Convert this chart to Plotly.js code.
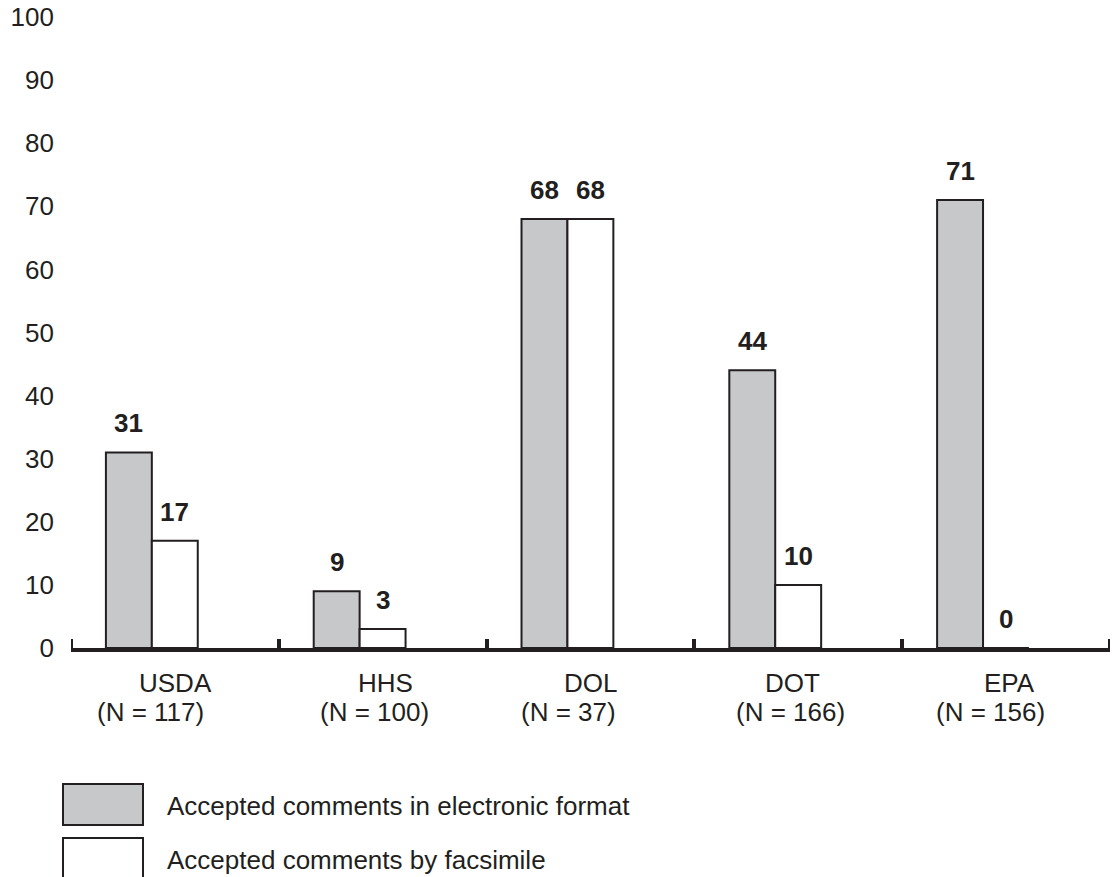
<!DOCTYPE html>
<html>
<head>
<meta charset="utf-8">
<script src="https://cdn.plot.ly/plotly-3.0.1.min.js"></script>
<style>html,body{margin:0;padding:0;background:#fff;}#chart{width:1116px;height:877px;}</style>
</head>
<body>
<div id="chart"></div>
<script>
// ---- data ----
const agencies = ["USDA", "HHS", "DOL", "DOT", "EPA"];
const sampleSizes = ["(N = 117)", "(N = 100)", "(N = 37)", "(N = 166)", "(N = 156)"];
const electronic = [31, 9, 68, 44, 71];
const facsimile = [17, 3, 68, 10, 0];
const seriesNames = ["Accepted comments in electronic format", "Accepted comments by facsimile"];
const yTicks = [0, 10, 20, 30, 40, 50, 60, 70, 80, 90, 100];

// ---- style / layout ----
const INK = "#231f20";
const GRAY = "#c7c8ca";
const FONT = "Liberation Sans, Arial, Helvetica, sans-serif";
const FS = 26;
const W = 1116, H = 877;
const M = {l: 71, r: 6, t: 17, b: 229};
const plotW = W - M.l - M.r, plotH = H - M.t - M.b;
const px2x = p => (p - M.l) / plotW;
const px2y = p => (H - M.b - p) / plotH;

const barW = 0.221;
const offE = -0.332, offF = offE + barW;
const nameShift = [1, 3, 0, -6, 3];
const nShift = [-24, -8, -22, -8, -16];

const traces = [
  {type: "bar", name: seriesNames[0], x: agencies, y: electronic,
   offset: offE, width: barW,
   marker: {color: GRAY, line: {color: INK, width: 2}}, hoverinfo: "x+y"},
  {type: "bar", name: seriesNames[1], x: agencies, y: facsimile,
   offset: offF, width: barW,
   marker: {color: "#ffffff", line: {color: INK, width: 2}}, hoverinfo: "x+y"}
];

const annotations = [];
agencies.forEach((a, i) => {
  annotations.push({x: i + offE + barW / 2, y: electronic[i], xref: "x", yref: "y",
    text: String(electronic[i]), showarrow: false, yanchor: "middle", yshift: 29,
    font: {family: FONT, size: FS, color: INK, weight: "bold"}});
  annotations.push({x: i + offF + barW / 2, y: facsimile[i], xref: "x", yref: "y",
    text: String(facsimile[i]), showarrow: false, yanchor: "middle", yshift: 29,
    font: {family: FONT, size: FS, color: INK, weight: "bold"}});
  annotations.push({x: i, y: 0, xref: "x", yref: "y", text: a, showarrow: false,
    yanchor: "middle", yshift: -35, xshift: nameShift[i],
    font: {family: FONT, size: FS, color: INK}});
  annotations.push({x: i, y: 0, xref: "x", yref: "y", text: sampleSizes[i], showarrow: false,
    yanchor: "middle", yshift: -64, xshift: nShift[i],
    font: {family: FONT, size: FS, color: INK}});
});

const legendRows = [
  {fill: GRAY, top: 784, bottom: 825, textY: 806},
  {fill: "#ffffff", top: 838, bottom: 882, textY: 860}
];
const shapes = [];
// end caps of the category axis (outer boundaries)
[-0.5, agencies.length - 0.5].forEach(xb => {
  shapes.push({type: "line", xref: "x", yref: "paper", x0: xb, x1: xb,
    y0: 0, y1: 9 / plotH, line: {color: INK, width: 4}});
});
legendRows.forEach((r, k) => {
  shapes.push({type: "rect", xref: "paper", yref: "paper",
    x0: px2x(63), x1: px2x(143), y0: px2y(r.top), y1: px2y(r.bottom),
    fillcolor: r.fill, line: {color: INK, width: 2}});
  annotations.push({xref: "paper", yref: "paper", x: px2x(165), y: px2y(r.textY),
    xanchor: "left", yanchor: "middle", text: seriesNames[k], showarrow: false,
    font: {family: FONT, size: FS, color: INK}});
});

const layout = {
  width: W, height: H,
  margin: M,
  paper_bgcolor: "#ffffff", plot_bgcolor: "#ffffff",
  showlegend: false,
  barmode: "overlay",
  font: {family: FONT, size: FS, color: INK},
  xaxis: {
    type: "category", range: [-0.5, 4.5], fixedrange: true,
    showline: true, linecolor: INK, linewidth: 4,
    ticks: "inside", tickson: "boundaries", ticklen: 9, tickwidth: 4, tickcolor: INK,
    showticklabels: false, showgrid: false, zeroline: false
  },
  yaxis: {
    range: [0, 100], tickvals: yTicks, ticktext: yTicks.map(String),
    showline: false, showgrid: false, zeroline: false, ticks: "",
    ticklabelstandoff: 16,
    tickfont: {family: FONT, size: FS, color: INK}
  },
  annotations: annotations,
  shapes: shapes
};

Plotly.newPlot("chart", traces, layout, {displayModeBar: false, staticPlot: true});
</script>
</body>
</html>
